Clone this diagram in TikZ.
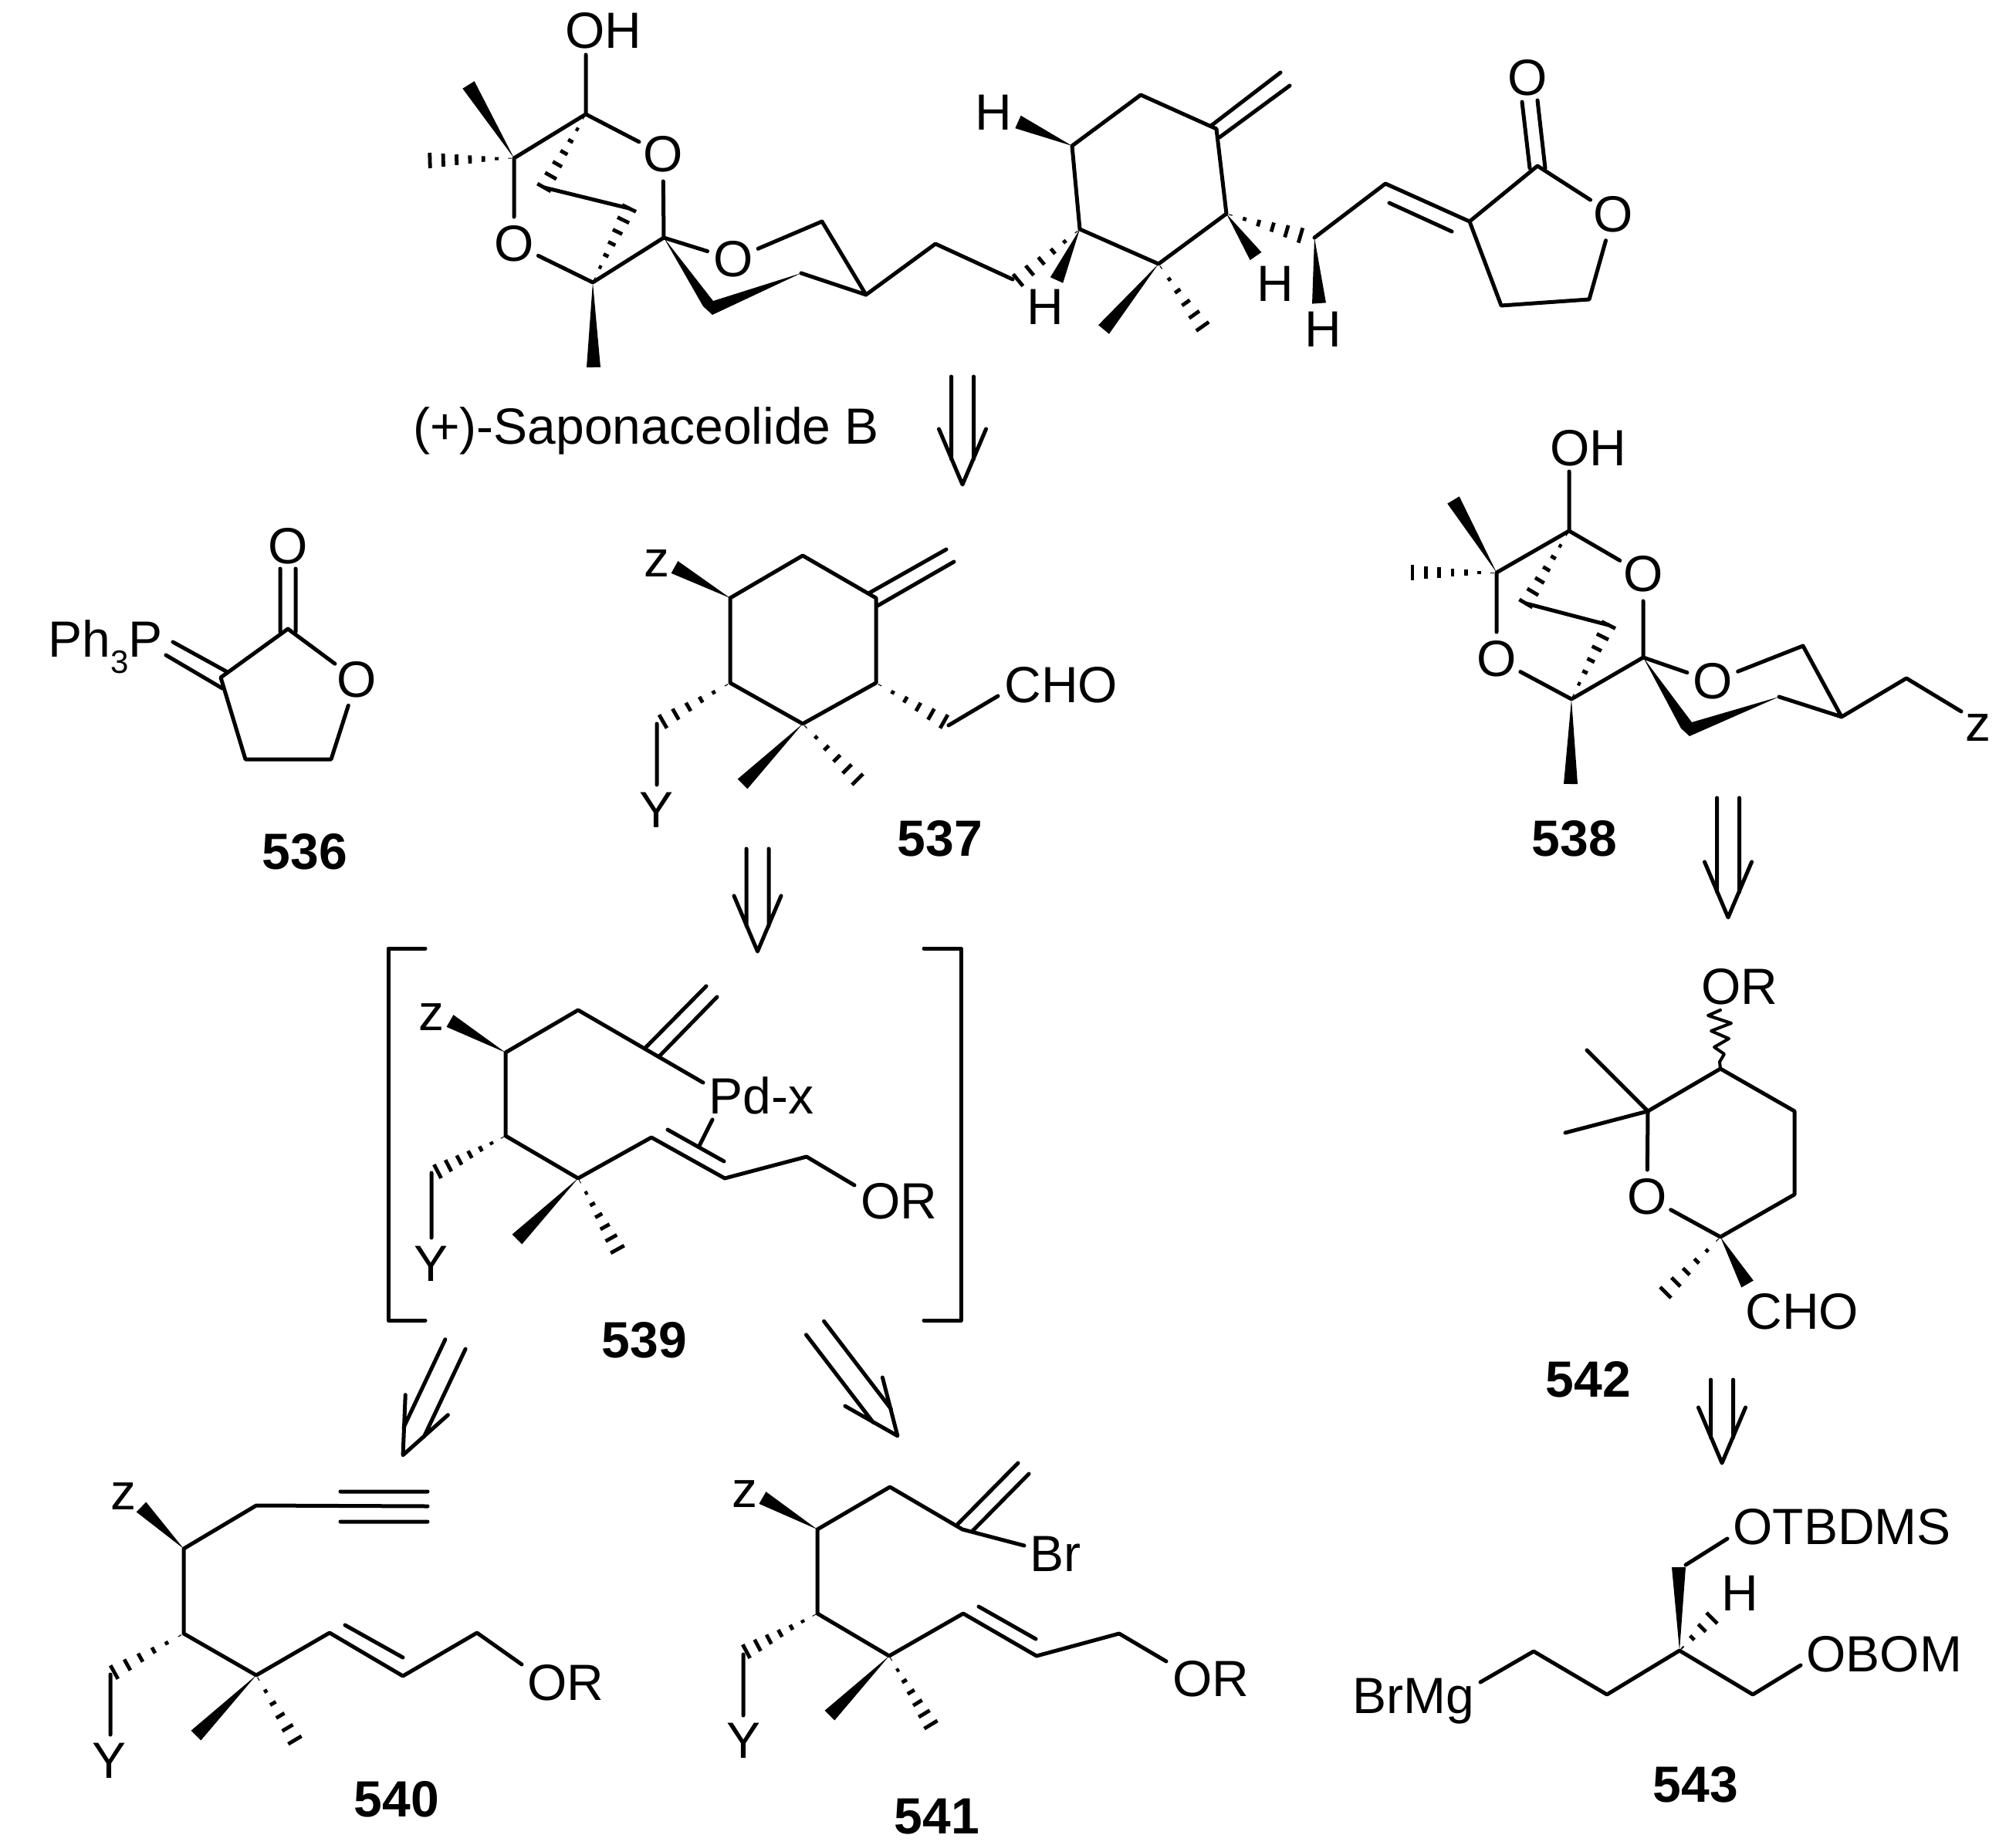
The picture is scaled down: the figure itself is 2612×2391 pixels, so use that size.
\documentclass[tikz,border=0pt]{standalone}
\usepackage{fontspec}
\setmainfont{Liberation Sans}
\usetikzlibrary{calc}
\tikzset{
    bond/.style={line width=2.5pt,line join=round,line cap=round},
    hashbar/.style={line width=2.4pt},
    lab/.style={inner sep=0pt,font=\fontsize{33}{33}\selectfont},
    oxy/.style={lab,circle},
    cpd/.style={inner sep=0pt,font=\fontsize{33}{33}\selectfont\bfseries},
}
% atoms as name/x/y, in image pixels
\newcommand{\atoms}[1]{\foreach \n/\x/\y in {#1} \coordinate (\n) at (\x,\y);}
% solid wedge: narrow atom, wide end, half width
\newcommand{\wedgeb}[3]{\fill ($(#1)$) -- ($(#2)!#3pt!90:(#1)$) -- ($(#2)!#3pt!-90:(#1)$) -- cycle;}
% hashed bond: narrow atom, wide end, number of bars
\newcommand{\hashb}[3]{\foreach \i in {1,...,#3} {
    \pgfmathsetmacro{\t}{(\i-0.7)/(#3-0.7)}
    \pgfmathsetmacro{\hw}{\t*5}
    \coordinate (hp) at ($(#1)!\t!(#2)$);
    \draw[hashbar] ($(hp)!\hw pt!90:(#1)$) -- ($(hp)!\hw pt!-90:(#1)$);
}}
% retrosynthetic arrow: tail x, tail y, angle, length
\newcommand{\retro}[4]{\begin{scope}[shift={(#1,#2)},rotate=#3]
    \coordinate (rl) at (-14.5,0); \coordinate (rr) at (14.5,0);
    \coordinate (rla) at (-14.5,#4-33); \coordinate (rra) at (14.5,#4-33);
    \coordinate (rhl) at (-30.5,#4-72); \coordinate (rhr) at (30.5,#4-72);
    \coordinate (rtip) at (0,#4);
    \draw[bond] (rl) -- (rla) (rr) -- (rra) (rhl) -- (rtip) -- (rhr);
\end{scope}}
\begin{document}
\begin{tikzpicture}[x=0.5pt,y=-0.5pt]
    \useasboundingbox (0,0) rectangle (2612,2391);
    % (+)-Saponaceolide B
    \node[lab] (soh) at (782,40) {OH};
    \node[oxy] (so1) at (859,200) {O};
    \node[oxy] (so2) at (666,316) {O};
    \node[oxy] (so3) at (950,336) {O};
    \node[lab,anchor=base west] (sname) at (535,575) {(+)-Saponaceolide B};
    \atoms{s1/759/148,s1t/759/71,s2/666/205,s2w/607/110,s2h/557/208,s3/768/366,s3w/769/476,s4/860/308,
        s5a/924/390,s5b/923/408,s5c/911/397,s6/1038/354,s7/1122/382,s8/1065/287,s9/1212/316,s10/1312/362,b1/705/243,b2/815/270}
    \draw[bond] (s1t) -- (s1) -- (s2) -- (so2) -- (s3) -- (s4) -- (so1) -- (s1);
    \draw[bond] (s4) -- (so3) -- (s8) -- (s7) -- (s6);
    \draw[bond] (s7) -- (s9) -- (s10);
    \draw[bond] (b1) -- (b2);
    \fill (s4) -- (s5a) -- (s6) -- (s5b) -- (s5c) -- cycle;
    \wedgeb{s2}{s2w}{4.5} \wedgeb{s3}{s3w}{4.5}
    \hashb{s2}{s2h}{7} \hashb{s1}{b1}{7} \hashb{s3}{b2}{7}
    \node[lab] (sh1) at (1287,146) {H};
    \node[lab] (sh2) at (1354,398) {H};
    \node[lab] (sh3) at (1652,368) {H};
    \node[lab] (sh4) at (1714,427) {H};
    \node[oxy] (so4) at (1979,101) {O};
    \node[oxy] (so5) at (2090,278) {O};
    \atoms{r1/1399/297,r2/1389/189,r3/1478/123,r4/1576/167,r5/1589/277,r6/1501/342,
        r1w/1369/363,r1h/1319/363,r2w/1319/158,r5w/1627/332,r5h/1685/305,r6w/1430/427,r6h/1558/423,
        ma/1569/163,mb/1659/94,mc/1580/178,md/1671/111,
        c7/1703/308,c7w/1709/393,c8/1795/238,c9/1904/287,c9a/1800/263,c9b/1881/300,c10/1992/215,
        ca/1972/132,cb/1982/218,cc/1992/130,cd/2002/218,c11/1945/396,c12/2059/388}
    \draw[bond] (r1) -- (r2) -- (r3) -- (r4) -- (r5) -- (r6) -- (r1);
    \draw[bond] (ma) -- (mb) (mc) -- (md);
    \draw[bond] (c7) -- (c8) -- (c9) -- (c10) -- (so5) -- (c12) -- (c11) -- (c9);
    \draw[bond] (c9a) -- (c9b) (ca) -- (cb) (cc) -- (cd);
    \wedgeb{r1}{r1w}{4.5} \wedgeb{r2}{r2w}{4.5} \wedgeb{r5}{r5w}{4.5} \wedgeb{r6}{r6w}{4.5} \wedgeb{c7}{c7w}{4.5}
    \hashb{r1}{r1h}{6} \hashb{r5}{r5h}{6} \hashb{r6}{r6h}{6}
    \retro{1247}{488}{0}{140}
    % 536
    \node[lab] (fo1) at (373,708) {O};
    \node[oxy] (fo2) at (462,881) {O};
    \node[lab,anchor=base west] (fp) at (62,851) {Ph\raisebox{-10.5pt}{\fontsize{21}{21}\selectfont 3}P};
    \node[cpd] (f536) at (395,1104) {536};
    \atoms{f1/373/815,f2/286/878,f3/318/984,f4/429/984,fa/363/737,fb/363/819,fc/383/737,fd/383/819,
        fe/224/832,ff/293/870,fg/215/849,fh/288/892}
    \draw[bond] (f1) -- (f2) -- (f3) -- (f4) -- (fo2) -- (f1);
    \draw[bond] (fa) -- (fb) (fc) -- (fd) (fe) -- (ff) (fg) -- (fh);
    % 537
    \node[lab] (kz) at (851,730) {z};
    \node[lab] (ky) at (851,1050) {Y};
    \node[lab,anchor=base west] (kcho) at (1301,910) {CHO};
    \node[cpd] (k537) at (1218,1087) {537};
    \atoms{k1/946/775,k2/1040/720,k3/1135/775,k4/1135/885,k5/1040/938,k6/946/885,k1w/874/735,k5w/962/1016,k5h/1111/1010,
        k4h/1223/935,k6h/859/935,ka/1127/768,kb/1226/712,kc/1137/785,kd/1236/728,ke/1229/940,kf/1293/902,kg/851/938,kh/851/1017}
    \draw[bond] (k1) -- (k2) -- (k3) -- (k4) -- (k5) -- (k6) -- (k1);
    \draw[bond] (ka) -- (kb) (kc) -- (kd) (ke) -- (kf) (kg) -- (kh);
    \wedgeb{k1}{k1w}{4.5} \wedgeb{k5}{k5w}{4.5}
    \hashb{k5}{k5h}{6} \hashb{k4}{k4h}{6} \hashb{k6}{k6h}{6}
    \retro{981.5}{1100}{0}{133}
    % 538
    \node[lab] (toh) at (2058,581) {OH};
    \node[oxy] (to1) at (2129,744) {O};
    \node[oxy] (to2) at (1939,854) {O};
    \node[oxy] (to3) at (2219,883) {O};
    \node[lab] (tz) at (2563,943) {z};
    \node[cpd] (t538) at (2040,1087) {538};
    \atoms{t1/2033/688,t1t/2033/611,t2/1939/742,t2w/1883/648,t2h/1830/742,t3/2036/906,t3w/2035/1016,t4/2129/852,
        t5a/2192/936,t5b/2189/954,t5c/2178/944,t6/2305/903,t7/2386/929,t8/2336/837,t9/2470/879,t10/2541/922,tb1/1977/782,tb2/2084/810}
    \draw[bond] (t1t) -- (t1) -- (t2) -- (to2) -- (t3) -- (t4) -- (to1) -- (t1);
    \draw[bond] (t4) -- (to3) -- (t8) -- (t7) -- (t6);
    \draw[bond] (t7) -- (t9) -- (t10);
    \draw[bond] (tb1) -- (tb2);
    \fill (t4) -- (t5a) -- (t6) -- (t5b) -- (t5c) -- cycle;
    \wedgeb{t2}{t2w}{4.5} \wedgeb{t3}{t3w}{4.5}
    \hashb{t2}{t2h}{7} \hashb{t1}{tb1}{7} \hashb{t3}{tb2}{7}
    \retro{2239}{1034}{0}{155}
    % 539
    \node[lab] (pz) at (559,1318) {z};
    \node[lab] (py) at (559,1638) {Y};
    \node[lab,anchor=base west] (ppd) at (918,1443) {Pd-x};
    \node[lab,anchor=base west] (por) at (1115,1579) {OR};
    \node[cpd] (p539) at (835,1737) {539};
    \atoms{l1/551/1229,l2/503/1229,l3/503/1711,l4/551/1711,l5/1197/1229,l6/1245/1229,l7/1245/1711,l8/1197/1711,
        p1/655/1364,p2/749/1309,p3/911/1403,p4/655/1472,p5/749/1527,p6/844/1474,p7/939/1527,p8/1045/1499,p9/1107/1536,
        p1w/583/1323,p5w/670/1606,p5h/800/1619,p4h/567/1518,pa/837/1357,pb/915/1278,pc/855/1368,pd/929/1292,
        pe/865/1464,pf/938/1505,pg/923/1451,ph/906/1485,pi/559/1520,pj/559/1604}
    \draw[bond] (l1) -- (l2) -- (l3) -- (l4) (l5) -- (l6) -- (l7) -- (l8);
    \draw[bond] (p3) -- (p2) -- (p1) -- (p4) -- (p5) -- (p6) -- (p7) -- (p8) -- (p9);
    \draw[bond] (pa) -- (pb) (pc) -- (pd) (pe) -- (pf) (pg) -- (ph) (pi) -- (pj);
    \wedgeb{p1}{p1w}{4.5} \wedgeb{p5}{p5w}{4.5}
    \hashb{p4}{p4h}{7} \hashb{p5}{p5h}{7}
    \retro{590}{1742}{-25.3}{159}
    \retro{1056}{1721}{37.4}{176}
    % 540
    \node[lab] (mz) at (160,1939) {z};
    \node[lab] (my) at (142,2282) {Y};
    \node[lab,anchor=base west] (mor) at (683,2203) {OR};
    \node[cpd] (m540) at (514,2332) {540};
    \atoms{m1/238/2007,m2/332/1951,m3/554/1952,m4/238/2117,m5/332/2171,m6/427/2116,m7/522/2172,m8/618/2116,m9/676/2157,
        m1w/183/1953,m5w/254/2249,m5h/382/2255,m4h/148/2167,t11/441/1933,t12/554/1933,t13/441/1972,t14/554/1972,
        me/447/2106,mf/522/2148,mg/143/2170,mh/143/2248}
    \draw[bond] (m3) -- (m2) -- (m1) -- (m4) -- (m5) -- (m6) -- (m7) -- (m8) -- (m9);
    \draw[bond] (t11) -- (t12) (t13) -- (t14) (me) -- (mf) (mg) -- (mh);
    \wedgeb{m1}{m1w}{4.5} \wedgeb{m5}{m5w}{4.5}
    \hashb{m4}{m4h}{6} \hashb{m5}{m5h}{6}
    % 541
    \node[lab] (nz) at (965,1936) {z};
    \node[lab] (ny) at (963,2256) {Y};
    \node[lab,anchor=base west] (nbr) at (1334,2036) {Br};
    \node[lab,anchor=base west] (nor) at (1519,2198) {OR};
    \node[cpd] (n541) at (1214,2354) {541};
    \atoms{n1/1059/1982,n2/1153/1927,n3/1247/1982,n3b/1327/2003,n4/1059/2091,n5/1152/2146,n6/1248/2091,n7/1343/2146,n8/1450/2117,n9/1511/2153,
        n1w/988/1941,n5w/1075/2223,n5h/1206/2235,n4h/967/2140,na/1241/1975,nb/1319/1896,nc/1260/1984,nd/1333/1910,
        ne/1268/2082,nf/1342/2124,ng/963/2144,nh/963/2223}
    \draw[bond] (n3b) -- (n3) -- (n2) -- (n1) -- (n4) -- (n5) -- (n6) -- (n7) -- (n8) -- (n9);
    \draw[bond] (na) -- (nb) (nc) -- (nd) (ne) -- (nf) (ng) -- (nh);
    \wedgeb{n1}{n1w}{4.5} \wedgeb{n5}{n5w}{4.5}
    \hashb{n4}{n4h}{7} \hashb{n5}{n5h}{7}
    % 542
    \node[lab,anchor=base west] (qor) at (2204,1301) {OR};
    \node[oxy] (qo) at (2134,1551) {O};
    \node[lab,anchor=base west] (qcho) at (2261,1722) {CHO};
    \node[cpd] (q542) at (2058,1788) {542};
    \atoms{q1/2229/1385,q2/2135/1440,q3/2325/1440,q4/2325/1548,q5/2229/1603,qa/2056/1361,qb/2028/1468,q5w/2264/1664,q5h/2158/1675,
        w1/2229/1309,w2/2213/1316,w3/2243/1326,w4/2217/1336,w5/2240/1346,w6/2221/1357,w7/2234/1366,w8/2228/1376}
    \draw[bond] (q1) -- (q2) -- (qo) -- (q5) -- (q4) -- (q3) -- (q1);
    \draw[bond] (qa) -- (q2) -- (qb);
    \draw[bond,line width=2pt] (w1) -- (w2) -- (w3) -- (w4) -- (w5) -- (w6) -- (w7) -- (w8) -- (q1);
    \wedgeb{q5}{q5w}{4.5}
    \hashb{q5}{q5h}{6}
    \retro{2231}{1788}{0}{108}
    % 543
    \node[lab,anchor=base west] (utb) at (2245,2001) {OTBDMS};
    \node[lab,anchor=base west] (ubo) at (2340,2166) {OBOM};
    \node[lab,anchor=base west] (ubr) at (1752,2220) {BrMg};
    \node[lab] (uh) at (2254,2065) {H};
    \node[cpd] (u543) at (2197,2313) {543};
    \atoms{u1/1918/2180,u2/1987/2140,u3/2082/2196,u4/2176/2139,u5/2271/2196,u6/2333/2158,u4w/2175/2031,u4h/2218/2097,ua/2184/2028,ub/2238/1994}
    \draw[bond] (u1) -- (u2) -- (u3) -- (u4) -- (u5) -- (u6);
    \draw[bond] (ua) -- (ub);
    \wedgeb{u4}{u4w}{4.5}
    \hashb{u4}{u4h}{4}
\end{tikzpicture}
\end{document}
